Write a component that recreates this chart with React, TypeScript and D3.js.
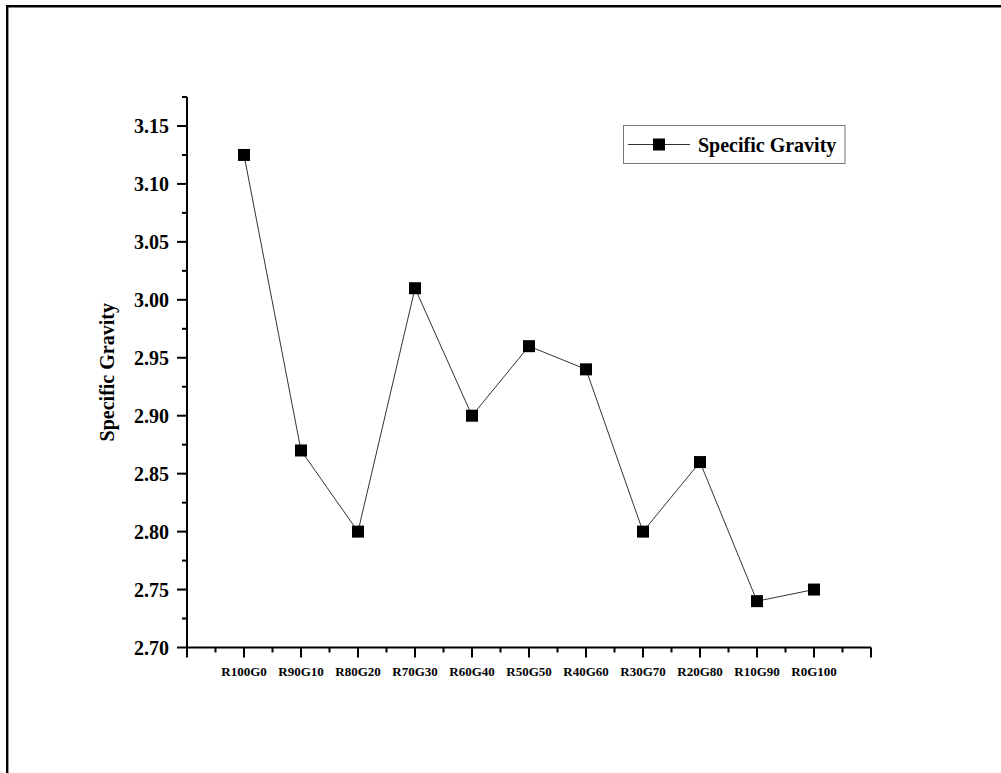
import React from "react";
import * as d3 from "d3";

const categories = ["R100G0", "R90G10", "R80G20", "R70G30", "R60G40", "R50G50", "R40G60", "R30G70", "R20G80", "R10G90", "R0G100"];
const specificGravity = [3.125, 2.87, 2.8, 3.01, 2.9, 2.96, 2.94, 2.8, 2.86, 2.74, 2.75];
const yTicks = [2.7, 2.75, 2.8, 2.85, 2.9, 2.95, 3.0, 3.05, 3.1, 3.15];
const seriesName = "Specific Gravity";
const yTitle = "Specific Gravity";

const W = 1001;
const H = 773;
const FONT = "'Liberation Serif', 'Times New Roman', serif";

export default function App() {
  const x = d3.scaleLinear().domain([-1, categories.length]).range([187, 871]);
  const y = d3.scaleLinear().domain([2.7, 3.175]).range([647.5, 97]);

  const line = d3
    .line<number>()
    .x((_, i) => x(i))
    .y((d) => y(d));

  const xMajor = d3.range(-1, categories.length + 1);
  const xMinor = d3.range(-0.5, categories.length, 1);
  const yMinor = yTicks.map((t) => t + 0.025);

  const ms = 12;

  return (
    <svg width={W} height={H} style={{ position: "absolute", left: 0, top: 0, background: "#fff" }}>
      <rect x={0} y={0} width={W} height={H} fill="#fff" />
      {/* outer frame */}
      <path d={`M7.2,${H + 5} L7.2,6.2 L${W + 5},6.2`} fill="none" stroke="#000" strokeWidth={2.4} />

      {/* axes */}
      <line x1={x(-1)} x2={x(-1)} y1={y(3.175)} y2={y(2.7)} stroke="#000" strokeWidth={2} />
      <line x1={x(-1)} x2={x(categories.length)} y1={y(2.7)} y2={y(2.7)} stroke="#000" strokeWidth={2} />

      {/* y ticks */}
      {yTicks.map((t) => (
        <g key={"yt" + t}>
          <line x1={x(-1) - 10} x2={x(-1)} y1={y(t)} y2={y(t)} stroke="#000" strokeWidth={2} />
          <text
            x={x(-1) - 18}
            y={y(t)}
            dy="0.35em"
            textAnchor="end"
            fontFamily={FONT}
            fontWeight="bold"
            fontSize={20}
          >
            {t.toFixed(2)}
          </text>
        </g>
      ))}
      {yMinor.map((t) => (
        <line key={"ym" + t} x1={x(-1) - 5} x2={x(-1)} y1={y(t)} y2={y(t)} stroke="#000" strokeWidth={2} />
      ))}

      {/* x ticks */}
      {xMajor.map((i) => (
        <line key={"xt" + i} x1={x(i)} x2={x(i)} y1={y(2.7)} y2={y(2.7) + 10} stroke="#000" strokeWidth={2} />
      ))}
      {xMinor.map((i) => (
        <line key={"xm" + i} x1={x(i)} x2={x(i)} y1={y(2.7)} y2={y(2.7) + 5} stroke="#000" strokeWidth={2} />
      ))}
      {categories.map((c, i) => (
        <text
          key={"xl" + c}
          x={x(i)}
          y={y(2.7) + 28.5}
          textAnchor="middle"
          fontFamily={FONT}
          fontWeight="bold"
          fontSize={13}
        >
          {c}
        </text>
      ))}

      {/* y title */}
      <text
        transform={`translate(114,${(y(2.7) + y(3.175)) / 2 - 0}) rotate(-90)`}
        textAnchor="middle"
        fontFamily={FONT}
        fontWeight="bold"
        fontSize={20}
      >
        {yTitle}
      </text>

      {/* series line */}
      <path d={line(specificGravity) || ""} fill="none" stroke="#333" strokeWidth={1} />
      {specificGravity.map((v, i) => (
        <rect key={"pt" + i} x={x(i) - ms / 2} y={y(v) - ms / 2} width={ms} height={ms} fill="#000" />
      ))}

      {/* legend */}
      <rect x={623.5} y={125.5} width={221.5} height={38} fill="#fff" stroke="#777" strokeWidth={1} />
      <line x1={628} x2={690} y1={144.5} y2={144.5} stroke="#333" strokeWidth={1} />
      <rect x={659 - ms / 2} y={144.5 - ms / 2} width={ms} height={ms} fill="#000" />
      <text x={698} y={144.5} dy="0.35em" fontFamily={FONT} fontWeight="bold" fontSize={20}>
        {seriesName}
      </text>
    </svg>
  );
}
